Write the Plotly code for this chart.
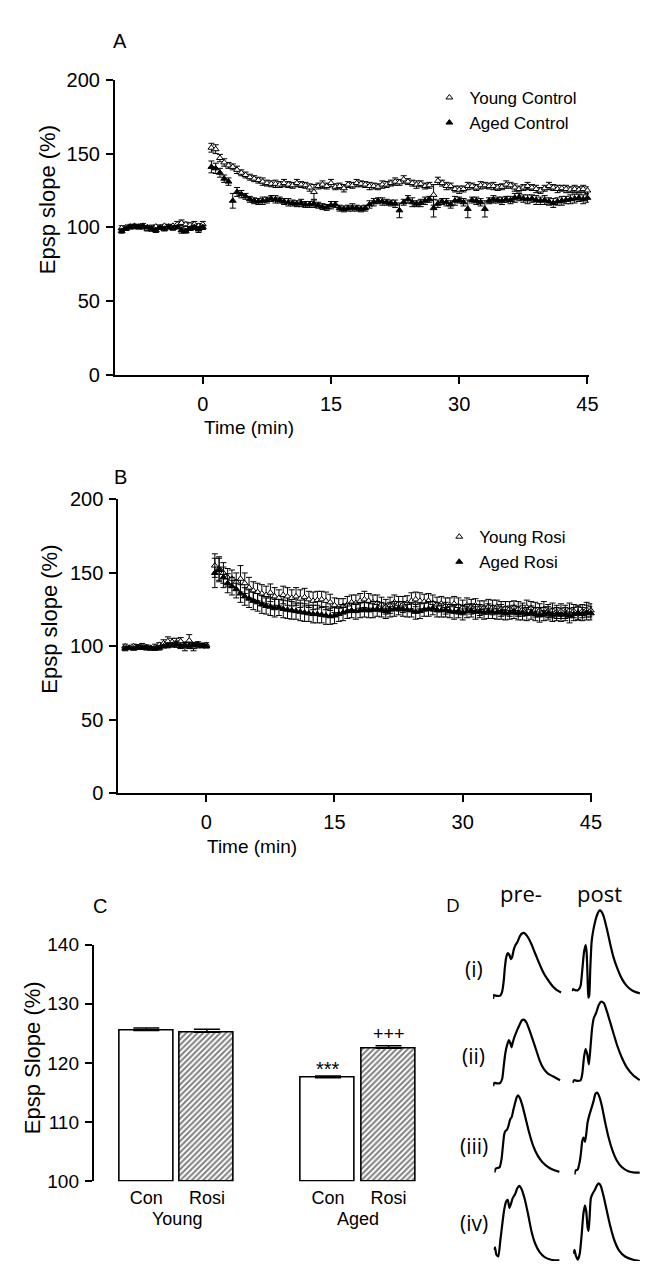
import plotly.graph_objects as go

# ---------------------------------------------------------------- data
# sampling times (min) for the fEPSP slope recordings
base_t = [-9.5, -9, -8.5, -8, -7.5, -7, -6.5, -6, -5.5, -5,
          -4.5, -4, -3.5, -3, -2.5, -2, -1.5, -1, -0.5, 0]
post_t = [1, 1.5, 2, 2.5, 3, 3.5, 4, 4.5, 5, 5.5,
          6, 6.5, 7, 7.5, 8, 8.5, 9, 9.5, 10, 10.5,
          11, 11.5, 12, 12.5, 13, 13.5, 14, 14.5, 15, 15.5,
          16, 16.5, 17, 17.5, 18, 18.5, 19, 19.5, 20, 20.5,
          21, 21.5, 22, 22.5, 23, 23.5, 24, 24.5, 25, 25.5,
          26, 26.5, 27, 27.5, 28, 28.5, 29, 29.5, 30, 30.5,
          31, 31.5, 32, 32.5, 33, 33.5, 34, 34.5, 35, 35.5,
          36, 36.5, 37, 37.5, 38, 38.5, 39, 39.5, 40, 40.5,
          41, 41.5, 42, 42.5, 43, 43.5, 44, 44.5, 45]
time_min = base_t + post_t

# panel A
young_control = [99.5, 100, 100.5, 101, 100.5, 100, 99, 99.5, 100.5, 100,
                 101, 100.5, 101, 102, 103, 102, 101.5, 102, 101, 102,
                 154, 153, 147, 144, 142, 141, 139, 137, 135.5, 134,
                 133, 132, 131, 130, 129.5, 129.5, 129, 130, 129, 128.5,
                 130, 129, 128.5, 127, 124, 128, 129, 128, 130, 127.5,
                 128, 126.5, 129, 128.5, 130, 129.5, 129, 128, 128, 127.5,
                 129, 129, 130, 131, 130.5, 132.5, 131, 130, 129, 129.5,
                 128, 128.5, 122, 131.5, 130, 128, 128, 126, 125.5, 126,
                 128, 128, 127, 128.5, 128.5, 128, 128, 127, 127.5, 129,
                 128.5, 127, 126, 127, 128, 127, 126, 125, 126.5, 128,
                 127, 126, 126.5, 126, 125.5, 126, 125.5, 126, 125]
young_control_err = [1.5, 1, 1.5, 1, 1.5, 1, 1.5, 2, 1, 1.5,
                     1, 1.5, 1, 2, 2, 1.5, 1.5, 2, 1.5, 2,
                     3, 3, 2.5, 2.5, 2, 2, 2.5, 2, 2, 2,
                     2, 2, 2.5, 2, 2, 2.5, 2, 2.5, 2, 2,
                     2.5, 2, 2, 2.5, 5, 2, 2.5, 2, 2.5, 2,
                     2, 2.5, 2, 2, 2.5, 2, 2, 2.5, 2, 2,
                     2.5, 2, 2, 2.5, 2, 2.5, 2, 2, 2.5, 2,
                     2, 2, 7, 2.5, 2, 2.5, 2, 2, 2.5, 2,
                     2.5, 2, 2, 2.5, 2, 2, 2.5, 2, 2, 2.5,
                     2, 2.5, 2, 2, 2.5, 2, 2.5, 2, 2, 2.5,
                     2, 2.5, 2, 2.5, 2, 2.5, 2, 2.5, 2.5]
aged_control = [97.5, 99, 100, 100.5, 100, 101, 100, 99, 98, 99.5,
                99, 100, 99.5, 100, 98, 97.5, 99, 100, 98.5, 100,
                141, 140, 137, 133, 131, 118, 124, 122.5, 121, 119,
                118, 117.5, 118, 118.5, 119.5, 119, 118.5, 117.5, 117, 116.5,
                116, 116.5, 115.5, 115.5, 116, 115, 114, 113.5, 115, 115.5,
                113, 112.5, 113, 113.5, 113, 112.5, 113, 115.5, 117, 118,
                117.5, 117, 116.5, 116, 111.5, 117, 119, 117, 116, 116.5,
                118, 119, 113, 116, 117.5, 117, 115.5, 118, 118.5, 117,
                112.5, 118.5, 118, 117, 112.5, 118, 119, 118.5, 118, 119,
                118.5, 120, 120.5, 119.5, 119, 119.5, 118.5, 118, 118.5, 117.5,
                116.5, 117.5, 118, 118.5, 119, 119.5, 120, 119, 120]
aged_control_err = [1.5, 1, 1, 1.5, 1, 1.5, 1, 1.5, 1.5, 1,
                    1.5, 1, 1.5, 1, 2, 1.5, 1, 1.5, 2, 1.5,
                    4, 3.5, 3, 2.5, 2.5, 5, 3, 2.5, 2, 2,
                    2, 2, 2.5, 2, 2, 2.5, 2, 2, 2.5, 2,
                    2, 2.5, 2, 2, 2.5, 2, 2, 2, 2.5, 2,
                    2, 2, 2, 2.5, 2, 2, 2, 2.5, 2.5, 2,
                    2.5, 2, 2, 2.5, 5, 2, 2.5, 3, 2, 2.5,
                    2.5, 2, 6, 2.5, 2, 2.5, 2.5, 3, 2, 2.5,
                    6, 2, 2.5, 2.5, 5.5, 2, 2.5, 2, 2.5, 2,
                    2.5, 3, 2.5, 2.5, 3, 2.5, 3, 2.5, 3, 2.5,
                    3, 2.5, 3, 2.5, 3, 3, 2.5, 3, 3]

# panel B
young_rosi = [100, 99, 100, 99.5, 100, 99, 98.5, 99.5, 101, 102,
              103.5, 103, 102.5, 103.5, 100, 104, 99.5, 101, 100.5, 101,
              155, 153, 150, 147, 146, 144, 146, 143, 140, 138,
              137, 136, 135, 136.5, 134, 133, 135, 134, 133, 134,
              132.5, 133.5, 132, 131, 131.5, 132, 131, 130, 128, 127,
              127.5, 128.5, 130, 129.5, 131, 132, 131, 130, 129.5, 128.5,
              127, 128, 130, 129, 128.5, 129.5, 131, 132, 131, 130.5,
              131, 129.5, 128.5, 129, 127.5, 128, 129, 127.5, 126.5, 128,
              127, 128, 126, 126.5, 127, 126.5, 127, 125.5, 126, 125.5,
              126.5, 125.5, 125, 126.5, 126, 125, 124.5, 125.5, 124, 124.5,
              123.5, 124, 123.5, 124.5, 124, 123, 124, 125, 124.5]
young_rosi_err = [1.5, 1, 1.5, 1.5, 2, 1.5, 1, 2, 1.5, 2.5,
                  3, 2.5, 3, 2.5, 3, 4, 2.5, 2, 1.5, 1.5,
                  8, 8, 7, 6, 6, 6, 9, 7, 7, 6,
                  6, 6, 6, 6, 6, 5.5, 6, 6, 5.5, 6,
                  6, 6, 5.5, 6, 6, 5.5, 6, 5.5, 5, 5.5,
                  5, 5.5, 5, 5.5, 5, 5.5, 5, 5, 5.5, 5,
                  5, 5.5, 5, 5, 5.5, 5, 5.5, 5, 5.5, 5,
                  5, 5.5, 5, 5, 5.5, 5, 5, 5.5, 5, 5,
                  5, 4.5, 5, 4.5, 5, 5, 4.5, 5, 4.5, 5,
                  4.5, 5, 4.5, 5, 4.5, 5, 4.5, 5, 4.5, 5,
                  4.5, 5, 4.5, 5, 4.5, 5, 4.5, 5, 4.5]
aged_rosi = [98.5, 99, 98.5, 99.5, 99, 99.5, 99, 98.5, 99, 100,
             100.5, 101, 101.5, 100, 101, 100.5, 101, 101.5, 100.5, 100,
             150, 152, 147, 143, 141, 139, 136, 134, 132.5, 131,
             130, 128.5, 127.5, 127, 126, 126.5, 125.5, 125, 124.5, 124,
             123.5, 123, 122.5, 122, 122, 121.5, 121, 120.5, 121, 122,
             123, 124, 124.5, 124, 124.5, 125, 124.5, 125, 125.5, 125,
             124, 125, 125.5, 126, 125.5, 125, 124.5, 123.5, 124, 125,
             125.5, 126, 125, 124.5, 125, 124, 123.5, 124, 123, 124,
             124.5, 123.5, 124, 123, 124, 123.5, 123, 123.5, 122.5, 123,
             123.5, 122.5, 123, 122, 123, 122, 121.5, 122, 122.5, 121.5,
             122, 121.5, 122, 121, 122, 122.5, 122, 123, 122.5]
aged_rosi_err = [1.5, 1, 1, 1.5, 1, 1.5, 1, 1, 1.5, 1,
                 1.5, 1.5, 2, 1.5, 1.5, 2, 1.5, 1.5, 1, 1,
                 10, 8, 7, 6.5, 6, 6, 6, 6, 6, 6,
                 6, 6, 5.5, 6, 6, 5.5, 6, 6, 6, 5.5,
                 6, 6, 5.5, 6, 6, 5.5, 6, 5.5, 5.5, 5,
                 5.5, 5, 5, 5.5, 5, 5, 5, 5.5, 5, 5,
                 5, 5, 5, 4.5, 5, 5, 4.5, 5, 5, 4.5,
                 5, 4.5, 5, 4.5, 5, 4.5, 5, 4.5, 5, 4.5,
                 4.5, 5, 4.5, 4.5, 5, 4.5, 4.5, 5, 4.5, 4.5,
                 4.5, 4.5, 5, 4.5, 4.5, 4.5, 5, 4.5, 4.5, 4.5,
                 4.5, 4.5, 4.5, 5, 4.5, 4.5, 4.5, 5, 4.5]

# panel C (mean slope 40-45 min)
groups = ["Young", "Aged"]
treatments = ["Con", "Rosi"]
con_slope = [125.5, 117.5]
con_err = [0.4, 0.3]
rosi_slope = [125.2, 122.5]
rosi_err = [0.5, 0.4]
sig_marks = ["***", "+++"]

# panel D example traces (time ms, amplitude), pre- and post-tetanus
i_pre_t = [0, 0.7, 2.7, 5.3, 7.3, 9, 10.7, 12, 13.3, 15, 16.7, 18, 19.3, 20.7, 22.3,
           24.7, 27.3, 29.3, 31.3, 33.3, 35.7, 39, 42.3, 45.7, 49, 52.3, 56.7, 60.7, 64.7, 69]
i_pre_v = [-3.3, 0.7, 0, -0.3, 0, 3.3, 14, 29, 39, 43.3, 41.3, 37.3, 39, 45.7, 50.7,
           54.7, 60.7, 63.3, 64, 62.3, 59, 52.3, 44, 35.7, 28, 21.3, 14.7, 9.3, 5.7, 3.3]
i_post_t = [0, 1.3, 3.3, 5.7, 7.3, 9, 10.7, 12.3, 14, 15, 16, 16.7, 17.7, 18.7, 20,
            21.3, 23.3, 25.7, 28, 30, 32.3, 35.7, 39, 42.3, 45.7, 50.7, 55.7, 60.7, 65.7, 69]
i_post_v = [-1, 1, 0, -0.3, 1, 5, 21.7, 38.3, 45.7, 38.3, 11.7, -7.7, -5, 21.7, 48.3,
            58.3, 68.3, 76.7, 81, 80, 75, 61.7, 46.7, 33.3, 23.3, 11.7, 4.3, 0, -2.3, -3.3]
ii_pre_t = [0, 1.3, 4, 7.3, 9.3, 10.7, 12.3, 14, 16, 17.3, 18.7, 20, 21.7, 24, 26.7,
            29.3, 31.7, 34, 37.3, 40.7, 44, 47.3, 51.3, 55.7, 60.7, 68]
ii_pre_v = [-2.7, 0.7, 0, 0.7, 5, 16.7, 30, 38.3, 44, 41.7, 36.7, 41.7, 47.3, 53.3, 59.3,
            64.3, 64.7, 61.7, 53.3, 43.3, 33.3, 23.3, 15, 10, 7.3, 3.3]
ii_post_t = [0, 1.7, 5, 8.3, 10, 11.7, 13.3, 15, 16.7, 18.3, 20, 21.7, 24, 26.7, 29.3,
             32, 35, 40, 45, 50, 55, 61.7, 68.3]
ii_post_v = [-1, 1.7, 1, 1.7, 8.3, 25, 33.3, 28.3, 17.7, 35, 55, 65, 70, 78.3, 81.7,
             80, 71.7, 55, 38.3, 25, 15, 6.7, 1.7]
iii_pre_t = [0, 1.3, 3.3, 5.3, 7.3, 8.7, 10, 11.3, 12.7, 14.3, 16, 17.7, 19.3, 21, 22.7,
             24, 26, 28.7, 32, 35.3, 39.3, 44.3, 49.3, 56, 61, 66]
iii_pre_v = [-4.7, -0.7, 0, 0.7, 9.3, 22.7, 34.3, 37.7, 38.7, 42.7, 49.3, 52, 59.3, 66, 72,
             74, 71, 62.7, 49.3, 36, 22.7, 12, 5.3, 0, -2.3, -4]
iii_post_t = [0, 1.3, 3.3, 5.3, 6.7, 8, 9.3, 10.7, 12, 13.3, 15.3, 17.3, 19.3, 21.3, 23,
              25.3, 28, 31.3, 34.7, 38.7, 43, 48, 54.7, 61.3, 66.3]
iii_post_v = [-4.3, 0, 0.7, 8.3, 18.3, 30, 33.3, 29, 36.7, 48.3, 56.7, 63.3, 70, 77.7, 79,
              75, 65, 48.3, 33.3, 20, 10, 3.3, -1, -2.3, -2.3]
iv_pre_t = [0, 1.3, 2.7, 4.7, 6.7, 8.7, 10.7, 12.7, 14.3, 16, 17.3, 19.3, 21.7, 24, 26,
            28.3, 31.7, 35, 38.3, 42.3, 46.7, 51.7, 58.3, 66.7]
iv_pre_v = [9, 11.7, 4.3, 2.3, 18.3, 35, 50, 58.3, 60, 51.7, 55, 61.7, 65.7, 71.7, 74.3,
            71, 60, 45, 28.3, 15, 6.7, 1.7, -1, -1.7]
iv_post_t = [0, 1.3, 2.7, 4.7, 6.7, 8.7, 10.3, 12, 13.3, 14.7, 15.7, 16.7, 18, 20, 22,
             24.3, 26, 28, 31, 34.3, 37.7, 42, 46.7, 52.7, 61, 67.7]
iv_post_v = [5, 9, 3.3, -1, 5, 25, 45, 54.3, 48.3, 31.7, 28.3, 41.7, 61.7, 66.7, 70,
             75, 76.7, 74.3, 63.3, 48.3, 33.3, 18.3, 8.3, 2.3, -1, -2.3]
trace_labels = ["(i)", "(ii)", "(iii)", "(iv)"]

# ---------------------------------------------------------------- layout helpers
W, H = 648, 1264
FONT = "Liberation Sans, Arial, sans-serif"
D_FONT = "Open Sans, Noto Sans, sans-serif"


def px(x):
    return x / W


def py(y):
    return 1 - y / H


def axis_style(size=20):
    return dict(showline=True, linecolor="black", linewidth=1.8,
                ticks="outside", ticklen=7, tickwidth=1.8, tickcolor="black",
                showgrid=False, zeroline=False,
                tickfont=dict(family=FONT, size=size, color="black"))


def time_series(name, y, err, filled, xa, ya, legend):
    return go.Scatter(
        x=time_min, y=y, mode="markers", name=name,
        marker=dict(symbol="triangle-up", size=6,
                    color="black" if filled else "white",
                    line=dict(color="black", width=1)),
        error_y=dict(type="data", array=err, color="black", thickness=1, width=3),
        xaxis=xa, yaxis=ya, legend=legend, cliponaxis=False)


fig = go.Figure()

# panels A and B
fig.add_trace(time_series("Young Control", young_control, young_control_err, False, "x", "y", "legend"))
fig.add_trace(time_series("Aged Control", aged_control, aged_control_err, True, "x", "y", "legend"))
fig.add_trace(time_series("Young Rosi", young_rosi, young_rosi_err, False, "x2", "y2", "legend2"))
fig.add_trace(time_series("Aged Rosi", aged_rosi, aged_rosi_err, True, "x2", "y2", "legend2"))

# panel C
CON_SLOTS = [0, 3]
ROSI_SLOTS = [1, 4]
BAR_BASE = 100
fig.add_trace(go.Bar(
    x=CON_SLOTS, y=[v - BAR_BASE for v in con_slope], base=BAR_BASE, width=0.89,
    marker=dict(color="white", line=dict(color="black", width=1.6)),
    error_y=dict(type="data", array=con_err, arrayminus=[0, 0], symmetric=False,
                 color="black", thickness=1.5, width=13),
    xaxis="x3", yaxis="y3", showlegend=False))
fig.add_trace(go.Bar(
    x=ROSI_SLOTS, y=[v - BAR_BASE for v in rosi_slope], base=BAR_BASE, width=0.89,
    marker=dict(color="white", line=dict(color="black", width=1.6),
                pattern=dict(shape="/", fgcolor="black", bgcolor="white",
                             size=4, solidity=0.5)),
    error_y=dict(type="data", array=rosi_err, arrayminus=[0, 0], symmetric=False,
                 color="black", thickness=1.5, width=13),
    xaxis="x3", yaxis="y3", showlegend=False))

# panel D: (start x px, baseline y px) of each little trace box
trace_data = [(i_pre_t, i_pre_v), (i_post_t, i_post_v),
              (ii_pre_t, ii_pre_v), (ii_post_t, ii_post_v),
              (iii_pre_t, iii_pre_v), (iii_post_t, iii_post_v),
              (iv_pre_t, iv_pre_v), (iv_post_t, iv_post_v)]
boxes = [(492.7, 994), (572.7, 988.3),
         (492.7, 1083.3), (573.3, 1081.7),
         (494, 1169.3), (575.3, 1171.7),
         (493.3, 1261.7), (574, 1261.7)]
BOX_W = 70
BOX_UP = 90
BOX_DOWN = 10

layout_axes = {}
for k, ((t, v), (bx, by)) in enumerate(zip(trace_data, boxes)):
    n = k + 4
    fig.add_trace(go.Scatter(x=t, y=v, mode="lines",
                             line=dict(color="black", width=2.2, shape="spline", smoothing=0.5),
                             xaxis=f"x{n}", yaxis=f"y{n}", showlegend=False))
    down = min(BOX_DOWN, H - by)
    layout_axes[f"xaxis{n}"] = dict(domain=[px(bx), px(bx + BOX_W)], range=[0, BOX_W],
                                    visible=False, anchor=f"y{n}")
    layout_axes[f"yaxis{n}"] = dict(domain=[py(by + down), py(by - BOX_UP)],
                                    range=[-down, BOX_UP], visible=False, anchor=f"x{n}")

fig.update_layout(
    width=W, height=H, margin=dict(l=0, r=0, t=0, b=0),
    paper_bgcolor="white", plot_bgcolor="rgba(0,0,0,0)",
    font=dict(family=FONT, color="black"),
    xaxis=dict(**axis_style(), domain=[px(108.5), px(590)], range=[-10.3, 45.17],
               tickvals=[0, 15, 30, 45], anchor="y", ticklabelstandoff=3),
    yaxis=dict(**axis_style(), domain=[py(362), py(62)], range=[0, 200],
               tickvals=[0, 50, 100, 150, 200], anchor="x", ticklabelstandoff=2),
    xaxis2=dict(**axis_style(), domain=[px(112), px(593.5)], range=[-10.3, 45.17],
                tickvals=[0, 15, 30, 45], anchor="y2", ticklabelstandoff=3),
    yaxis2=dict(**axis_style(), domain=[py(788), py(489)], range=[0, 200],
                tickvals=[0, 50, 100, 150, 200], anchor="x2", ticklabelstandoff=2),
    xaxis3=dict(domain=[px(87), px(430)], range=[-0.87, 4.707], anchor="y3",
                showline=False, showgrid=False, zeroline=False, ticks="",
                tickvals=CON_SLOTS + ROSI_SLOTS, ticktext=treatments[:1] * 2 + treatments[1:] * 2,
                tickfont=dict(family=FONT, size=18, color="black"), ticklabelstandoff=4),
    yaxis3=dict(**axis_style(19), domain=[py(1183), py(942)], range=[100, 140],
                tickvals=[100, 110, 120, 130, 140], anchor="x3", ticklabelstandoff=2),
    legend=dict(x=px(428), y=py(62), xanchor="left", yanchor="top",
                font=dict(family=FONT, size=17, color="black"),
                bgcolor="rgba(0,0,0,0)", tracegroupgap=0),
    legend2=dict(x=px(438), y=py(509), xanchor="left", yanchor="top",
                 font=dict(family=FONT, size=17, color="black"),
                 bgcolor="rgba(0,0,0,0)", tracegroupgap=0),
    bargap=0,
    **layout_axes,
)

ann = []


def label(text, x, y, size=19, family=FONT, angle=0, xref="paper", yref="paper"):
    ann.append(dict(text=text, x=x, y=y, xref=xref, yref=yref, showarrow=False,
                    xanchor="center", yanchor="middle", textangle=angle,
                    font=dict(family=family, size=size, color="black")))


label("A", px(114), py(22), size=20)
label("B", px(114), py(466), size=20)
label("C", px(93), py(903), size=20)
label("Epsp slope (%)", px(40), py(184), size=22, angle=-90)
label("Epsp slope (%)", px(42), py(611), size=22, angle=-90)
label("Epsp Slope (%)", px(25), py(1057), size=22, angle=-90)
label("Time (min)", px(245), py(416))
label("Time (min)", px(248), py(842))
# group names under the bar pairs
for g, slots in zip(groups, zip(CON_SLOTS, ROSI_SLOTS)):
    label(g, sum(slots) / 2, py(1221), size=18, xref="x3")
# significance marks above the aged bars
label(sig_marks[0], CON_SLOTS[1], 119.0, size=20, xref="x3", yref="y3")
label(sig_marks[1], ROSI_SLOTS[1], 124.9, size=18, xref="x3", yref="y3")
# panel D texts
label("D", px(452), py(902), family=D_FONT)
label("pre-", px(521), py(889), size=22, family=D_FONT)
label("post", px(601), py(889), size=22, family=D_FONT)
for txt, yy in zip(trace_labels, [967, 1055, 1147, 1225]):
    label(txt, px(473), py(yy), size=21, family=D_FONT)

fig.update_layout(annotations=ann)

fig.write_html("out.html")
